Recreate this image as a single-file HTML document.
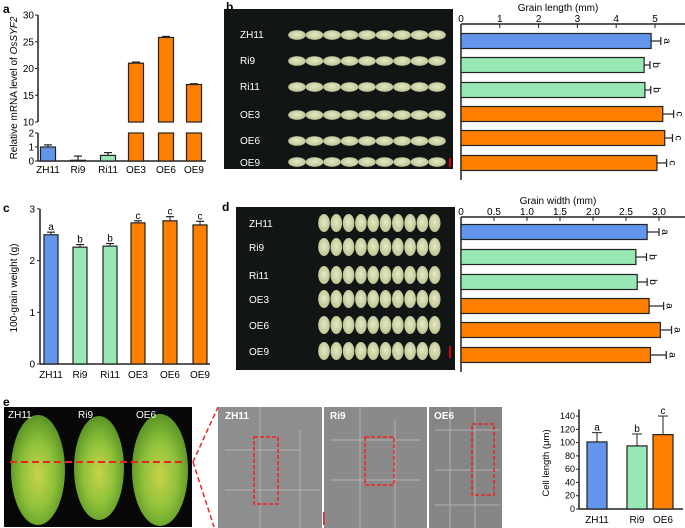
<!DOCTYPE html>
<html><head><meta charset="utf-8"><style>
body{margin:0;background:#fff;}
svg{display:block;font-family:"Liberation Sans",Arial,sans-serif;}
</style></head><body>
<svg id="fig" width="685" height="528" viewBox="0 0 685 528" xmlns="http://www.w3.org/2000/svg">
<defs>
<radialGradient id="grainG" cx="50%" cy="45%" r="60%"><stop offset="0" stop-color="#e6e9c4"/><stop offset="1" stop-color="#b9c08f"/></radialGradient>
<radialGradient id="spG" cx="50%" cy="55%" r="60%"><stop offset="0" stop-color="#c9d24a"/><stop offset="0.5" stop-color="#8fc23a"/><stop offset="1" stop-color="#4f8a22"/></radialGradient>
</defs>
<g font-weight="bold" font-size="12">
<text x="3" y="13">a</text>
<text x="226" y="11">b</text>
<text x="3" y="212">c</text>
<text x="222" y="211">d</text>
<text x="3" y="406">e</text>
</g>
<!-- photos -->
<rect x="224" y="9" width="229" height="160" fill="#111614"/>
<rect x="236" y="207" width="219" height="163" fill="#111614"/>
<g id="photoB"></g><g id="photoD"></g>
<g fill="#fff" font-size="10">
<text x="240" y="38">ZH11</text><text x="240" y="64">Ri9</text><text x="240" y="90">Ri11</text><text x="240" y="118">OE3</text><text x="240" y="144">OE6</text><text x="240" y="166">OE9</text>
<text x="249" y="227">ZH11</text><text x="249" y="251">Ri9</text><text x="249" y="279">Ri11</text><text x="249" y="303">OE3</text><text x="249" y="329">OE6</text><text x="249" y="355">OE9</text>
</g>
<rect x="449" y="158" width="2" height="9" fill="#d00"/>
<rect x="449" y="346" width="2" height="12" fill="#d00"/>
<!-- panel e photos -->
<rect x="4" y="407" width="188" height="120" fill="#070707"/>
<ellipse cx="38" cy="470" rx="27" ry="55" fill="url(#spG)"/>
<ellipse cx="99" cy="468" rx="25" ry="52" fill="url(#spG)"/>
<ellipse cx="160" cy="470" rx="28" ry="56" fill="url(#spG)"/>
<line x1="10" y1="462" x2="186" y2="462" stroke="#e22" stroke-width="2" stroke-dasharray="7,4"/>
<line x1="193" y1="462" x2="218" y2="407" stroke="#e22" stroke-width="1.5" stroke-dasharray="5,3"/>
<line x1="193" y1="462" x2="214" y2="527" stroke="#e22" stroke-width="1.5" stroke-dasharray="5,3"/>
<g fill="#fff" font-size="10"><text x="8" y="418">ZH11</text><text x="78" y="418">Ri9</text><text x="136" y="418">OE6</text></g>
<rect x="218" y="407" width="104" height="121" fill="#8e8e8e"/>
<rect x="324" y="407" width="103" height="121" fill="#8a8a8a"/>
<rect x="429" y="407" width="73" height="121" fill="#858585"/>
<g stroke="#bdbdbd" stroke-width="1" fill="none" opacity="0.8">
<path d="M225 450 H300 M225 490 H320 M260 407 V528 M300 430 V528"/>
<path d="M330 440 H420 M330 480 H420 M360 407 V528 M395 420 V528"/>
<path d="M435 430 H500 M435 470 H500 M435 505 H500 M450 407 V528 M475 407 V528"/>
</g>
<g fill="#fff" font-size="10" font-weight="bold"><text x="225" y="419">ZH11</text><text x="330" y="419">Ri9</text><text x="434" y="419">OE6</text></g>
<g fill="none" stroke="#e22" stroke-width="1.5" stroke-dasharray="4,2">
<rect x="254" y="437" width="24" height="67"/><rect x="365" y="437" width="29" height="48"/><rect x="472" y="424" width="22" height="71"/>
</g>
<rect x="323" y="512" width="1.5" height="13" fill="#e22"/>
<g id="chartA"></g><g id="chartB"></g><g id="chartC"></g><g id="chartD"></g><g id="chartE"></g>
</svg>
<script>
const lines6=["ZH11","Ri9","Ri11","OE3","OE6","OE9"];
const colors6=["#6495ed","#98e8b5","#98e8b5","#ff8000","#ff8000","#ff8000"];
const mrnaValues=[1.0,0.05,0.4,21.0,25.8,17.0];
const mrnaErrors=[0.15,0.3,0.2,0.2,0.2,0.15];
const lengthValues=[4.9,4.72,4.74,5.2,5.25,5.05];
const lengthErrors=[0.25,0.15,0.15,0.28,0.2,0.25];
const lengthLetters=["a","b","b","c","c","c"];
const weightValues=[2.5,2.26,2.28,2.73,2.77,2.69];
const weightErrors=[0.05,0.05,0.05,0.04,0.08,0.07];
const weightLetters=["a","b","b","c","c","c"];
const widthValues=[2.82,2.65,2.67,2.85,3.02,2.87];
const widthErrors=[0.18,0.16,0.15,0.22,0.17,0.24];
const widthLetters=["a","b","b","a","a","a"];
const cellLines=["ZH11","Ri9","OE6"];
const cellColors=["#6495ed","#98e8b5","#ff8000"];
const cellValues=[101,95,112];
const cellErrors=[14,18,28];
const cellLetters=["a","b","c"];
const lengthTicks=[0,1,2,3,4,5];
const widthTicks=["0","0.5","1.0","1.5","2.0","2.5","3.0"];
const weightTicks=[0,1,2,3];
const mrnaUpperTicks=[10,15,20,25,30];
const mrnaLowerTicks=[0,1,2];
const cellTicks=[0,20,40,60,80,100,120,140];

const NS="http://www.w3.org/2000/svg";
function mk(p,tag,a,txt){const e=document.createElementNS(NS,tag);for(const k in a)e.setAttribute(k,a[k]);if(txt!==undefined)e.textContent=txt;p.appendChild(e);return e;}
const K="#222";

(function(){
 const gB=document.getElementById('photoB');
 const rowsB=[35,61,87,115,141,162];
 rowsB.forEach((y,r)=>{for(let i=0;i<9;i++){mk(gB,'ellipse',{cx:297+i*17.5,cy:y,rx:8.8,ry:4.8,fill:'url(#grainG)'});}});
 const gD=document.getElementById('photoD');
 const rowsD=[223,247,275,299,325,351];
 rowsD.forEach((y,r)=>{for(let i=0;i<10;i++){mk(gD,'ellipse',{cx:324+i*12.3,cy:y,rx:5.8,ry:9,fill:'url(#grainG)'});}});
})();

(function(){
 const g=document.getElementById('chartA');
 const ax=38, yL=v=>161-v*14, yU=v=>122-(v-10)*5.35;
 const cx=[48,78,108,136,166,194];
 mk(g,'line',{x1:ax,y1:15,x2:ax,y2:122,stroke:K,'stroke-width':1.5});
 mk(g,'line',{x1:ax,y1:133,x2:ax,y2:161,stroke:K,'stroke-width':1.5});
 mk(g,'line',{x1:ax,y1:161,x2:206,y2:161,stroke:K,'stroke-width':1.5});
 mrnaUpperTicks.forEach(t=>{mk(g,'line',{x1:ax-3,y1:yU(t),x2:ax,y2:yU(t),stroke:K});mk(g,'text',{x:ax-4,y:yU(t)+3.5,'text-anchor':'end','font-size':10},t);});
 mrnaLowerTicks.forEach(t=>{mk(g,'line',{x1:ax-3,y1:yL(t),x2:ax,y2:yL(t),stroke:K});mk(g,'text',{x:ax-4,y:yL(t)+3.5,'text-anchor':'end','font-size':10},t);});
 const yt=mk(g,'text',{x:0,y:0,transform:'translate(17,88) rotate(-90)','text-anchor':'middle','font-size':10});
 
 
 mk(yt,'tspan',{},'Relative mRNA level of ');mk(yt,'tspan',{'font-style':'italic'},'OsSYF2');
 mrnaValues.forEach((v,i)=>{
  const w=15,x=cx[i]-w/2;
  if(v>2){
   const b1=mk(g,'rect',{x:x,y:133,width:w,height:28,fill:colors6[i],stroke:K,'stroke-width':1.2});
   
   
   const b2=mk(g,'rect',{x:x,y:yU(v),width:w,height:122-yU(v),fill:colors6[i],stroke:K,'stroke-width':1.2});
   
   
   const ye=yU(v+mrnaErrors[i]);
   mk(g,'line',{x1:cx[i]-4,y1:ye,x2:cx[i]+4,y2:ye,stroke:K,'stroke-width':1.2});
  } else {
   const b=mk(g,'rect',{x:x,y:yL(v),width:w,height:161-yL(v),fill:colors6[i],stroke:K,'stroke-width':1.2});
   
   
   const ye=yL(v+mrnaErrors[i]);
   mk(g,'line',{x1:cx[i],y1:ye,x2:cx[i],y2:yL(v),stroke:K,'stroke-width':1.2});
   mk(g,'line',{x1:cx[i]-4,y1:ye,x2:cx[i]+4,y2:ye,stroke:K,'stroke-width':1.2});
  }
  mk(g,'text',{x:cx[i],y:173,'text-anchor':'middle','font-size':10},lines6[i]);
 });
})();

function hchart(id,x0,scale,axY,rows,vals,errs,letters,ticks,tickVals,title,titleY,name){
 const g=document.getElementById(id);
 const xs=v=>x0+v*scale;
 mk(g,'line',{x1:x0,y1:axY,x2:685,y2:axY,stroke:K,'stroke-width':1.5});
 mk(g,'line',{x1:x0,y1:axY,x2:x0,y2:rows[5]+17,stroke:K,'stroke-width':1.5});
 ticks.forEach((t,i)=>{const xx=xs(tickVals[i]);mk(g,'line',{x1:xx,y1:axY,x2:xx,y2:axY+4,stroke:K});mk(g,'text',{x:xx,y:axY-2,'text-anchor':'middle','font-size':10},t);});
 const tt=mk(g,'text',{x:558,y:titleY,'text-anchor':'middle','font-size':10},title);
 
 
 vals.forEach((v,i)=>{
  const h=15,y=rows[i]-h/2;
  const b=mk(g,'rect',{x:x0,y:y,width:xs(v)-x0,height:h,fill:colors6[i],stroke:K,'stroke-width':1.2});
  
  
  const xe=xs(v+errs[i]);
  mk(g,'line',{x1:xs(v),y1:rows[i],x2:xe,y2:rows[i],stroke:K,'stroke-width':1.2});
  mk(g,'line',{x1:xe,y1:rows[i]-4,x2:xe,y2:rows[i]+4,stroke:K,'stroke-width':1.2});
  mk(g,'text',{x:0,y:0,transform:`translate(${xe+3},${rows[i]}) rotate(90)`,'text-anchor':'middle','font-size':10},letters[i]);
 });
}
hchart('chartB',461,38.8,24,[41,65,90,114,138,163],lengthValues,lengthErrors,lengthLetters,lengthTicks.map(String),lengthTicks,'Grain length (mm)',11,'length');
hchart('chartD',461,66,217,[232,257,282,306,330,355],widthValues,widthErrors,widthLetters,widthTicks,widthTicks.map(Number),'Grain width (mm)',204,'width');

(function(){
 const g=document.getElementById('chartC');
 const ax=40,y0=364,ys=v=>y0-v*51.7;
 const cx=[51,80,110,138,170,200];
 mk(g,'line',{x1:ax,y1:ys(3),x2:ax,y2:y0,stroke:K,'stroke-width':1.5});
 mk(g,'line',{x1:ax,y1:y0,x2:210,y2:y0,stroke:K,'stroke-width':1.5});
 weightTicks.forEach(t=>{mk(g,'line',{x1:ax-3,y1:ys(t),x2:ax,y2:ys(t),stroke:K});mk(g,'text',{x:ax-5,y:ys(t)+3.5,'text-anchor':'end','font-size':10},t);});
 const yt=mk(g,'text',{x:0,y:0,transform:'translate(17,288) rotate(-90)','text-anchor':'middle','font-size':10},'100-grain weight (g)');
 
 
 weightValues.forEach((v,i)=>{
  const w=14;
  const b=mk(g,'rect',{x:cx[i]-w/2,y:ys(v),width:w,height:y0-ys(v),fill:colors6[i],stroke:K,'stroke-width':1.2});
  
  
  const ye=ys(v+weightErrors[i]);
  mk(g,'line',{x1:cx[i],y1:ye,x2:cx[i],y2:ys(v),stroke:K});
  mk(g,'line',{x1:cx[i]-4,y1:ye,x2:cx[i]+4,y2:ye,stroke:K,'stroke-width':1.2});
  mk(g,'text',{x:cx[i],y:ye-2,'text-anchor':'middle','font-size':10},weightLetters[i]);
  mk(g,'text',{x:cx[i],y:378,'text-anchor':'middle','font-size':10},lines6[i]);
 });
})();

(function(){
 const g=document.getElementById('chartE');
 const ax=579,y0=509,ys=v=>y0-v*0.664;
 const cx=[597,637,663];
 mk(g,'line',{x1:ax,y1:ys(150),x2:ax,y2:y0,stroke:K,'stroke-width':1.5});
 mk(g,'line',{x1:ax,y1:y0,x2:683,y2:y0,stroke:K,'stroke-width':1.5});
 cellTicks.forEach(t=>{mk(g,'line',{x1:ax-3,y1:ys(t),x2:ax,y2:ys(t),stroke:K});mk(g,'text',{x:ax-4,y:ys(t)+3,'text-anchor':'end','font-size':9},t);});
 const yt=mk(g,'text',{x:0,y:0,transform:'translate(549,463) rotate(-90)','text-anchor':'middle','font-size':9.5},'Cell length (μm)');
 
 
 cellValues.forEach((v,i)=>{
  const w=20;
  const b=mk(g,'rect',{x:cx[i]-w/2,y:ys(v),width:w,height:y0-ys(v),fill:cellColors[i],stroke:K,'stroke-width':1.2});
  
  
  const ye=ys(v+cellErrors[i]);
  mk(g,'line',{x1:cx[i],y1:ye,x2:cx[i],y2:ys(v),stroke:K});
  mk(g,'line',{x1:cx[i]-5,y1:ye,x2:cx[i]+5,y2:ye,stroke:K});
  mk(g,'text',{x:cx[i],y:ye-2,'text-anchor':'middle','font-size':10},cellLetters[i]);
  mk(g,'text',{x:cx[i],y:523,'text-anchor':'middle','font-size':10},cellLines[i]);
 });
})();
</script>
</body></html>
